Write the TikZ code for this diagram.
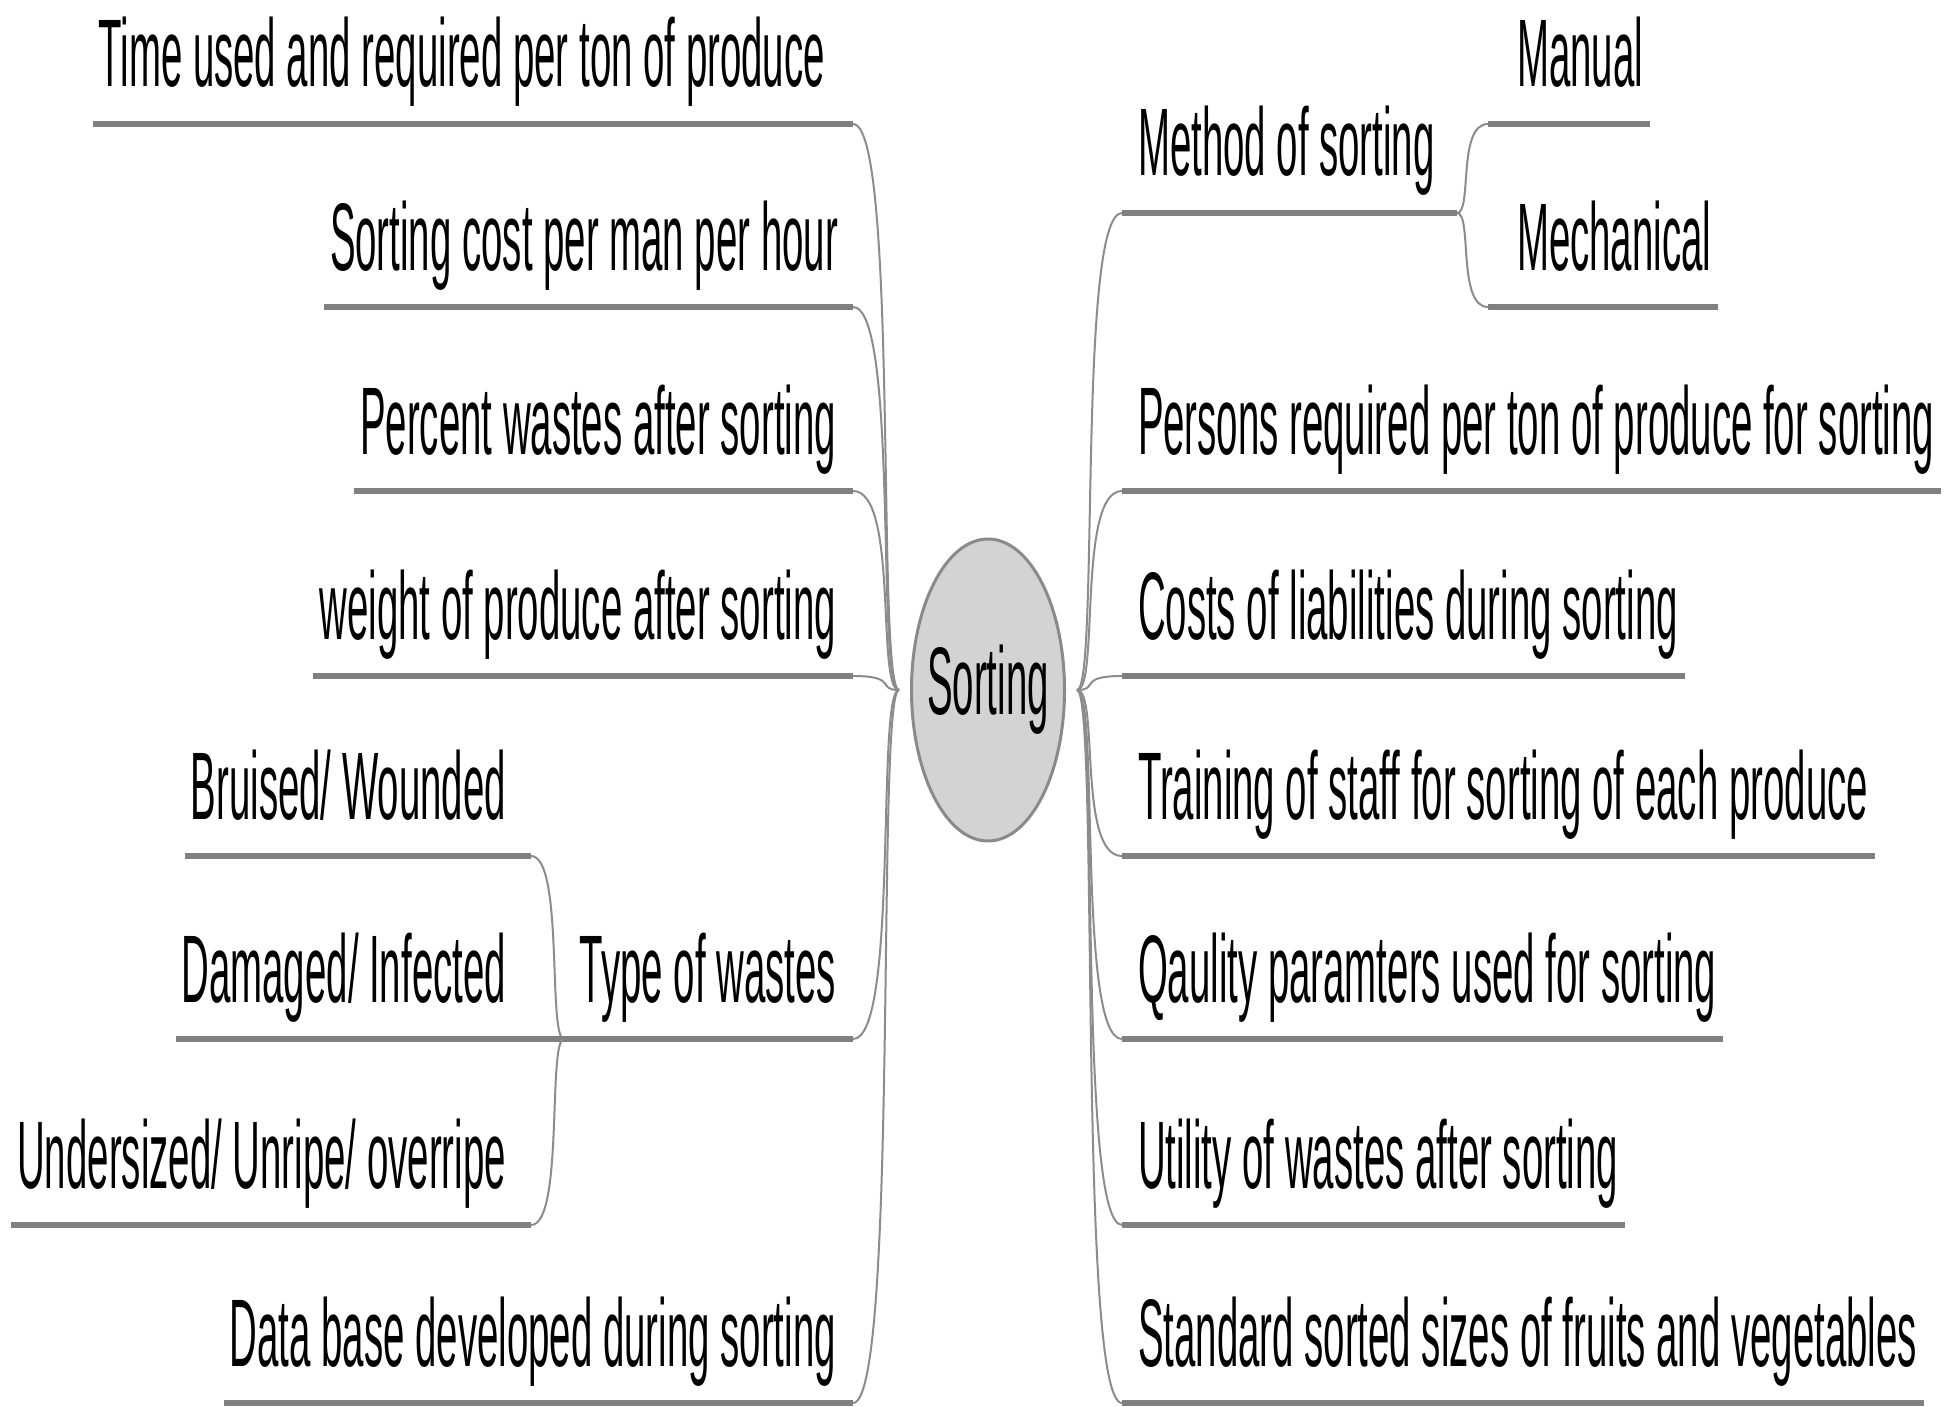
\documentclass[tikz,border=0pt]{standalone}
\usepackage{fontspec}
\usepackage{graphicx}
\setmainfont{Liberation Sans}
\usetikzlibrary{shapes.geometric,calc}

\definecolor{bargray}{HTML}{808080}
\definecolor{stemgray}{HTML}{8C8C8C}
\definecolor{hubfill}{HTML}{D3D3D3}
\definecolor{hubline}{HTML}{8A8A8A}

% condensed lettering used for every label
\newcommand\narrow[1]{\scalebox{0.4}[1]{#1}}

\tikzset{
  lbl/.style={inner sep=0pt, outer sep=0pt, font=\fontsize{96}{110}\selectfont},
  bar/.style={draw=bargray, line width=5.5pt},
  stem/.style={draw=stemgray, line width=2pt},
  hubnode/.style={ellipse, draw=hubline, fill=hubfill, line width=3pt,
    minimum width=153pt, minimum height=302pt, inner sep=0pt,
    font=\fontsize{96}{110}\selectfont},
}

% branch growing to the left: name, parent point, bar end x, bar y, gap, text
\newcommand\leftitem[6]{%
  \coordinate (#1e) at (#3,#4);
  \node[lbl, anchor=base east] (#1) at (#3-#5,#4-37) {\narrow{#6}};
  \draw[bar] (#1e) -- ([xshift=-6pt]#1.west |- #1e);
  \draw[stem] (#2) .. controls ($(#2)!0.5!(#1e |- #2)$) and (#2 |- #1e) .. (#1e);
}
% branch growing to the right: name, parent point, bar start x, bar y, gap, text
\newcommand\rightitem[6]{%
  \coordinate (#1e) at (#3,#4);
  \node[lbl, anchor=base west] (#1) at (#3+#5,#4-37) {\narrow{#6}};
  \draw[bar] (#1e) -- ([xshift=7pt]#1.east |- #1e);
  \draw[stem] (#2) .. controls ($(#2)!0.5!(#1e |- #2)$) and (#2 |- #1e) .. (#1e);
}

\begin{document}
\begin{tikzpicture}[x=1pt, y=-1pt]
  \useasboundingbox (0,0) rectangle (1944,1407);

  % central topic; the label is given zero width so the ellipse keeps its size
  \node[hubnode] (hub) at (988,690) {\makebox[0pt]{\narrow{Sorting}}};
  \coordinate (jl) at (899,690);
  \coordinate (jr) at (1077,690);

  % left side
  \leftitem{l1}{jl}{853}{124}{28}{Time used and required per ton of produce}
  \leftitem{l2}{jl}{853}{307}{15}{Sorting cost per man per hour}
  \leftitem{l3}{jl}{853}{491}{17}{Percent wastes after sorting}
  \leftitem{l4}{jl}{853}{676}{17}{weight of produce after sorting}

  % type of wastes with its own sub-branches
  \coordinate (l5e) at (853,1039);
  \coordinate (j5) at (564,1039);
  \node[lbl, anchor=base east] (l5) at (836,1002) {\narrow{Type of wastes}};
  \draw[bar] (l5e) -- (j5);
  \draw[stem] (jl) .. controls ($(jl)!0.5!(l5e |- jl)$) and (jl |- l5e) .. (l5e);
  \leftitem{s1}{j5}{531}{856}{25}{Bruised/ Wounded}
  \leftitem{s2}{j5}{564}{1039}{58}{Damaged/ Infected}
  \leftitem{s3}{j5}{531}{1225}{25}{Undersized/ Unripe/ overripe}

  \leftitem{l6}{jl}{853}{1403}{17}{Data base developed during sorting}

  % right side: method of sorting with its sub-branches
  \coordinate (r1e) at (1122,213);
  \coordinate (j1) at (1457,213);
  \node[lbl, anchor=base west] (r1) at (1138,176) {\narrow{Method of sorting}};
  \draw[bar] (r1e) -- (j1);
  \draw[stem] (jr) .. controls ($(jr)!0.5!(r1e |- jr)$) and (jr |- r1e) .. (r1e);
  \rightitem{m1}{j1}{1488}{124}{29}{Manual}
  \rightitem{m2}{j1}{1488}{307}{29}{Mechanical}

  \rightitem{r2}{jr}{1122}{491}{16}{Persons required per ton of produce for sorting}
  \rightitem{r3}{jr}{1122}{676}{16}{Costs of liabilities during sorting}
  \rightitem{r4}{jr}{1122}{856}{16}{Training of staff for sorting of each produce}
  \rightitem{r5}{jr}{1122}{1039}{16}{Qaulity paramters used for sorting}
  \rightitem{r6}{jr}{1122}{1225}{16}{Utility of wastes after sorting}
  \rightitem{r7}{jr}{1122}{1403}{16}{Standard sorted sizes of fruits and vegetables}
\end{tikzpicture}
\end{document}
